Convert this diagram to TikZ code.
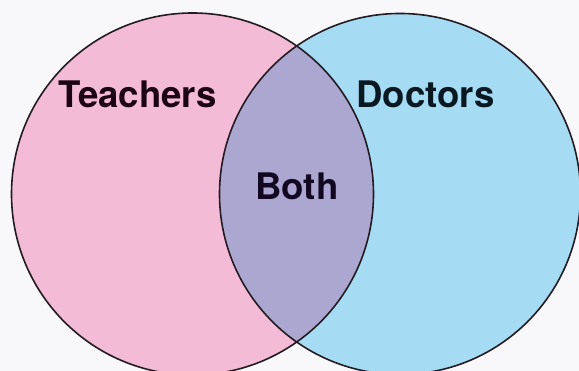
\documentclass[tikz,border=0pt]{standalone}
\usepackage{fontspec}
\setmainfont{TeX Gyre Heros}
\definecolor{bgc}{HTML}{F8F7FA}
\definecolor{pinkc}{HTML}{F3BBD6}
\definecolor{bluec}{HTML}{A6DBF4}
\definecolor{bothc}{HTML}{ABA7D0}
\definecolor{edgec}{HTML}{231C22}
\definecolor{txtT}{HTML}{1C0414}
\definecolor{txtD}{HTML}{0A1822}
\definecolor{txtB}{HTML}{120822}
\tikzset{
  setring/.style={draw=edgec, line width=1.6pt},
  setlabel/.style={anchor=base, font=\bfseries\fontsize{36.6}{40}\selectfont, inner sep=0pt}
}
\begin{document}
\begin{tikzpicture}[x=1pt,y=1pt]
\useasboundingbox (0,0) rectangle (579,371);
\fill[bgc] (0,0) rectangle (579,371);
\begin{scope}
\clip (0,0) rectangle (579,371);
\fill[pinkc] (192.5,177) circle (181);
\fill[bluec] (400,177) circle (180.5);
\begin{scope}
\clip (192.5,177) circle (181);
\fill[bothc] (400,177) circle (180.5);
\end{scope}
\draw[setring] (192.5,177) circle (181);
\draw[setring] (400,177) circle (180.5);
\end{scope}
\node[setlabel, text=txtT] (teachers) at (137.5,263.7) {Teachers};
\node[setlabel, text=txtD] (doctors) at (425.5,263.7) {Doctors};
\node[setlabel, text=txtB] (both) at (297,171) {Both};
\end{tikzpicture}
\end{document}
